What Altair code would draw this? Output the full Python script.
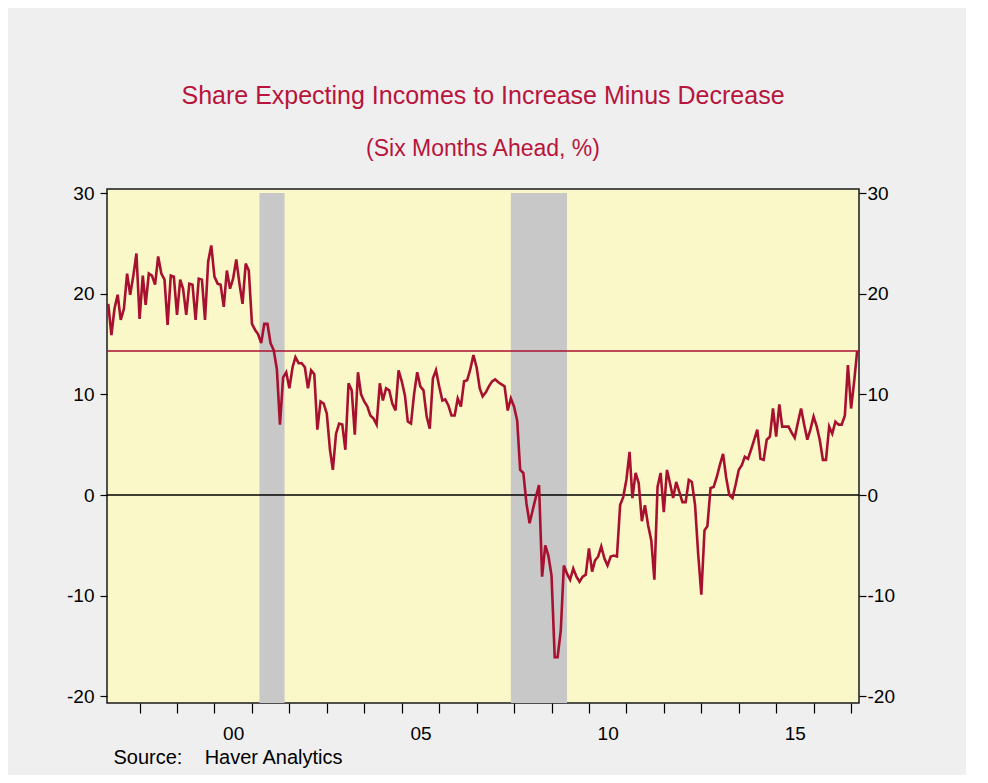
import altair as alt
import pandas as pd

# ---------------- data ----------------
START_MONTH = "1997-03-01"   # first monthly observation

v1997 = [19.0, 15.9, 18.5, 19.9, 17.4, 18.5, 22.0, 19.9, 21.8, 24.0]          # Mar-Dec
v1998 = [17.5, 21.8, 18.9, 22.0, 21.8, 20.9, 23.7, 22.0, 21.4, 16.9, 21.8, 21.7]
v1999 = [17.9, 21.4, 20.5, 17.9, 21.0, 20.9, 17.4, 21.5, 21.4, 17.4, 23.2, 24.8]
v2000 = [21.7, 21.0, 20.9, 18.7, 22.3, 20.5, 21.5, 23.4, 21.0, 19.0, 23.0, 22.3]
v2001 = [17.0, 16.4, 16.0, 15.1, 17.0, 17.0, 15.1, 14.4, 12.5, 7.0, 11.7, 12.2]
v2002 = [10.6, 12.7, 13.7, 13.1, 13.1, 12.7, 10.6, 12.4, 12.0, 6.5, 9.3, 9.1]
v2003 = [8.1, 4.5, 2.5, 6.1, 7.1, 7.0, 4.5, 11.1, 10.4, 6.0, 12.2, 10.0]
v2004 = [9.3, 8.8, 7.9, 7.6, 7.0, 11.1, 9.4, 10.6, 10.4, 9.1, 8.4, 12.4]
v2005 = [11.3, 9.9, 7.3, 7.1, 10.0, 12.2, 10.8, 10.4, 7.8, 6.6, 11.6, 12.4]
v2006 = [10.8, 9.4, 9.5, 8.9, 7.9, 7.9, 9.6, 8.8, 11.3, 11.4, 12.5, 13.9]
v2007 = [12.7, 10.6, 9.8, 10.2, 10.8, 11.3, 11.5, 11.2, 11.0, 10.8, 8.4, 9.6]
v2008 = [8.8, 7.4, 2.5, 2.2, -0.8, -2.8, -1.5, -0.2, 1.0, -8.1, -5.0, -6.0]
v2009 = [-8.0, -16.1, -16.1, -13.5, -7.0, -7.8, -8.4, -7.3, -8.1, -8.6, -8.1, -7.9]
v2010 = [-5.3, -7.6, -6.5, -6.1, -5.1, -6.3, -7.0, -6.1, -6.0, -6.1, -1.0, -0.2]
v2011 = [1.5, 4.3, -0.3, 2.2, 1.2, -2.6, -1.0, -3.0, -4.5, -8.4, 0.8, 2.2]
v2012 = [-1.7, 2.5, 1.2, -0.3, 1.3, 0.3, -0.7, -0.7, 1.5, 1.3, -1.0, -5.8]
v2013 = [-9.9, -3.5, -3.1, 0.7, 0.8, 1.8, 3.0, 4.1, 1.7, 0.0, -0.3, 1.0]
v2014 = [2.5, 3.0, 3.8, 3.6, 4.5, 5.5, 6.5, 3.6, 3.5, 5.5, 5.8, 8.6]
v2015 = [5.8, 9.0, 6.8, 6.8, 6.8, 6.2, 5.7, 7.2, 8.6, 7.0, 5.5, 6.5]
v2016 = [7.8, 6.8, 5.5, 3.5, 3.5, 6.8, 6.1, 7.3, 7.0, 7.0, 7.9, 12.9]
v2017 = [8.6, 11.4, 14.3]                                                       # Jan-Mar

LATEST = 14.3   # horizontal reference line at the latest reading

rec_start = ["2001-03-15", "2007-12-01"]
rec_end = ["2001-11-15", "2009-06-01"]

y_ticks = [-20, -10, 0, 10, 20, 30]
tick_years = list(range(1998, 2018))

TITLE = "Share Expecting Incomes to Increase Minus Decrease"
SUBTITLE = "(Six Months Ahead, %)"
SOURCE = "Source:\u00a0\u00a0\u00a0\u00a0Haver Analytics"

# ---------------- tables ----------------
series = (v1997 + v1998 + v1999 + v2000 + v2001 + v2002 + v2003 + v2004 + v2005 +
          v2006 + v2007 + v2008 + v2009 + v2010 + v2011 + v2012 + v2013 + v2014 +
          v2015 + v2016 + v2017)
dates = pd.date_range(START_MONTH, periods=len(series), freq="MS").strftime("%Y-%m-%d")
df = pd.DataFrame({"date": list(dates), "value": series})

Y_MIN, Y_MAX = -20.65, 30.4
REC_TOP = 30.0
rec = pd.DataFrame({"start": rec_start, "end": rec_end,
                    "lo": [Y_MIN] * len(rec_start), "hi": [REC_TOP] * len(rec_start)})
zero_df = pd.DataFrame({"y": [0]})
ref_df = pd.DataFrame({"y": [LATEST]})

RED = "#A8102F"
TITLE_RED = "#B8143C"
FONT = "Liberation Sans"
LABEL_SIZE = 19

x_scale = alt.Scale(
    type="utc",
    domain=[alt.DateTime(year=1997, month=2, date=17, utc=True),
            alt.DateTime(year=2017, month=3, date=19, utc=True)],
)
y_scale = alt.Scale(domain=[Y_MIN, Y_MAX], nice=False, zero=False)

x_axis = alt.Axis(
    values=[alt.DateTime(year=y, month=1, date=1, utc=True) for y in tick_years],
    labelExpr="utcyear(datum.value) % 5 == 0 ? utcFormat(datum.value, '%y') : ''",
    labelOffset=18.7, labelOverlap=False, labelBound=False, labelFlush=False,
    tickSize=10, labelPadding=11, domain=False, grid=False,
    title=SOURCE, titleAnchor="start", titleAlign="left", titleX=6, titleY=54,
    titleBaseline="middle", titleFontWeight="normal", titleFontSize=20,
)

y_label = "toString(datum.value)"
left_axis = alt.Axis(values=y_ticks, orient="left", tickSize=7, labelPadding=6,
                     labelExpr=y_label, domain=False, grid=False, title=None)
right_axis = alt.Axis(values=y_ticks, orient="right", tickSize=7, labelPadding=1,
                      labelExpr=y_label, domain=False, grid=False, title=None)

rects = alt.Chart(rec).mark_rect(color="#C8C8C8").encode(
    x=alt.X("start:T", scale=x_scale, axis=x_axis),
    x2="end:T",
    y=alt.Y("lo:Q", scale=y_scale, axis=left_axis),
    y2="hi:Q",
)

zero = alt.Chart(zero_df).mark_rule(color="black", strokeWidth=1.5).encode(
    y=alt.Y("y:Q", scale=y_scale, axis=None)
)
ref = alt.Chart(ref_df).mark_rule(color=RED, strokeWidth=1.5).encode(
    y=alt.Y("y:Q", scale=y_scale, axis=None)
)

line = alt.Chart(df).mark_line(color=RED, strokeWidth=2.6).encode(
    x=alt.X("date:T", scale=x_scale, axis=x_axis),
    y=alt.Y("value:Q", scale=y_scale, axis=right_axis),
)

chart = (
    alt.layer(rects, zero, ref, line)
    .resolve_scale(y="shared", x="shared")
    .resolve_axis(y="independent")
    .properties(
        width=752, height=514,
        padding={"left": 99, "top": 181, "right": 107, "bottom": 72},
        autosize=alt.AutoSizeParams(type="none"),
        background="#EFEFEF",
        title=alt.TitleParams(
            text=TITLE, subtitle=SUBTITLE, anchor="middle",
            font=FONT, subtitleFont=FONT, fontSize=25, subtitleFontSize=23,
            fontWeight="normal", color=TITLE_RED, subtitleColor=TITLE_RED,
            offset=23, subtitlePadding=29,
        ),
    )
    .configure_view(fill="#FAF8C8", stroke="#1A1A1A", strokeWidth=1.5)
    .configure_axis(labelFont=FONT, titleFont=FONT, labelFontSize=LABEL_SIZE,
                    labelColor="black", titleColor="black", tickColor="black",
                    tickWidth=1.2)
)

chart.save("out.html", embed_options={"renderer": "svg", "actions": False})
